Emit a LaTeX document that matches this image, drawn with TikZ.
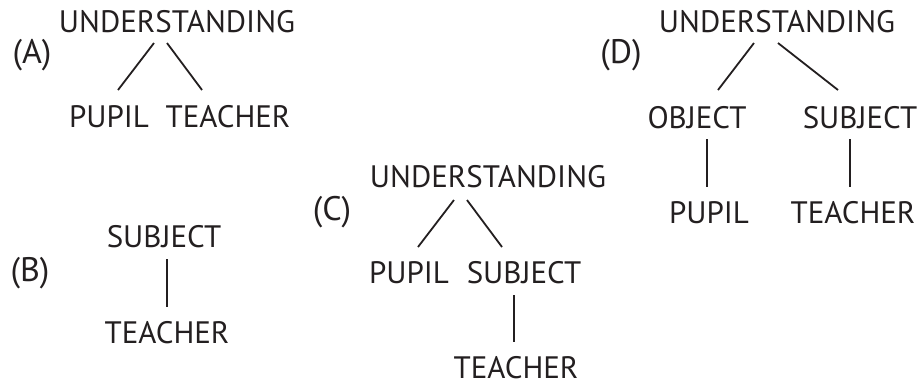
\documentclass[tikz,border=0pt]{standalone}
\usepackage{fontspec}
\setmainfont{PT Sans}
\definecolor{ink}{HTML}{231F20}
\begin{document}
\begin{tikzpicture}[x=1pt,y=-1pt,
  word/.style={anchor=base,inner sep=0pt,text=ink,font=\fontsize{31}{31}\selectfont},
  tag/.style={word,font=\fontsize{34}{34}\selectfont},
  link/.style={draw=ink,line width=1.8pt}]
\useasboundingbox (0,0) rectangle (922,384);
% (A)
\node[tag]  (aL) at (32,63)   {(A)};
\node[word] (aU) at (177,32)  {UNDERSTANDING};
\node[word] (aP) at (109,127) {PUPIL};
\node[word] (aT) at (228,127) {TEACHER};
\draw[link] ([shift={(-23,11)}]aU.base) -- ([shift={(9,-37)}]aP.base);
\draw[link] ([shift={(-10,11)}]aU.base) -- ([shift={(-26,-37)}]aT.base);
% (B)
\node[tag]  (bL) at (30,281)  {(B)};
\node[word] (bS) at (164,247) {SUBJECT};
\node[word] (bT) at (167,343) {TEACHER};
\draw[link] ([shift={(3,12)}]bS.base) -- ([shift={(0,-36)}]bT.base);
% (C)
\node[tag]  (cL) at (332,220) {(C)};
\node[word] (cU) at (488,187) {UNDERSTANDING};
\node[word] (cP) at (409,283) {PUPIL};
\node[word] (cS) at (524,283) {SUBJECT};
\node[word] (cT) at (516,378) {TEACHER};
\draw[link] ([shift={(-34,13)}]cU.base) -- ([shift={(9,-36)}]cP.base);
\draw[link] ([shift={(-21,13)}]cU.base) -- ([shift={(-22,-36)}]cS.base);
\draw[link] ([shift={(-10,12)}]cS.base) -- ([shift={(-2,-36)}]cT.base);
% (D)
\node[tag]  (dL) at (621,63)  {(D)};
\node[word] (dU) at (777,32)  {UNDERSTANDING};
\node[word] (dO) at (697,128) {OBJECT};
\node[word] (dS) at (860,128) {SUBJECT};
\node[word] (dP) at (709,223) {PUPIL};
\node[word] (dT) at (853,223) {TEACHER};
\draw[link] ([shift={(-23,11)}]dU.base) -- ([shift={(21,-38)}]dO.base);
\draw[link] ([shift={(1,11)}]dU.base) -- ([shift={(-22,-38)}]dS.base);
\draw[link] ([shift={(10,11)}]dO.base) -- ([shift={(-2,-36)}]dP.base);
\draw[link] ([shift={(-10,11)}]dS.base) -- ([shift={(-3,-36)}]dT.base);
\end{tikzpicture}
\end{document}
